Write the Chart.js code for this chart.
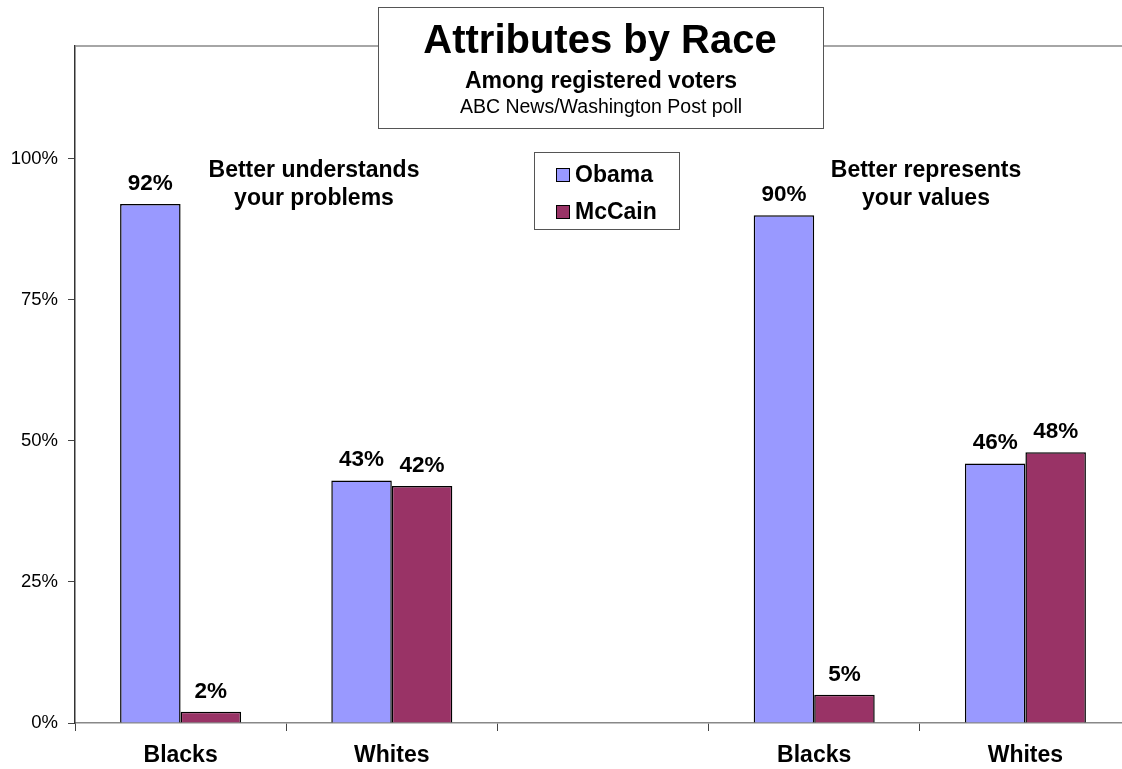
<!DOCTYPE html>
<html>
<head>
<meta charset="utf-8">
<script src="https://cdn.jsdelivr.net/npm/chart.js@4.4.1/dist/chart.umd.min.js"></script>
<style>
  html, body { margin: 0; padding: 0; background: #fff; overflow: hidden; }
  #wrap { position: relative; width: 1131px; height: 769px; }
</style>
</head>
<body>
<div id="wrap"><canvas id="raceChart"></canvas></div>
<script>
const categories = ['Blacks', 'Whites', '', 'Blacks', 'Whites'];
const obamaValues = [92, 43, null, 90, 46];
const mccainValues = [2, 42, null, 5, 48];
const yTicks = [0, 25, 50, 75, 100];
const FONT = '"Liberation Sans", Arial, sans-serif';

const overlay = {
    id: 'overlay',
    afterDraw(chart) {
        const c = chart.ctx;
        const area = chart.chartArea;
        c.save();
        // top border of plot area
        c.strokeStyle = '#888';
        c.lineWidth = 1.5;
        c.beginPath();
        c.moveTo(area.left, area.top);
        c.lineTo(area.right, area.top);
        c.stroke();

        // value labels
        c.fillStyle = '#000';
        c.font = 'bold 22.5px ' + FONT;
        c.textAlign = 'center';
        c.textBaseline = 'alphabetic';
        chart.data.datasets.forEach((ds, i) => {
            chart.getDatasetMeta(i).data.forEach((bar, j) => {
                if (ds.data[j] == null) return;
                c.fillText(ds.data[j] + '%', bar.x, bar.y - 14);
            });
        });

        // group captions
        c.font = 'bold 23px ' + FONT;
        c.fillText('Better understands', 314, 177);
        c.fillText('your problems', 314, 205);
        c.fillText('Better represents', 926, 177);
        c.fillText('your values', 926, 205);

        // title box
        c.fillStyle = '#fff';
        c.fillRect(378, 7, 445, 121);
        c.strokeStyle = '#555';
        c.lineWidth = 1;
        c.strokeRect(378.5, 7.5, 445, 121);
        c.fillStyle = '#000';
        c.font = 'bold 40px ' + FONT;
        c.fillText('Attributes by Race', 600, 53);
        c.font = 'bold 23px ' + FONT;
        c.fillText('Among registered voters', 601, 88);
        c.font = '19.5px ' + FONT;
        c.fillText('ABC News/Washington Post poll', 601, 113);

        // legend box
        c.fillStyle = '#fff';
        c.fillRect(534, 152, 145, 77);
        c.strokeStyle = '#555';
        c.strokeRect(534.5, 152.5, 145, 77);
        const items = [['Obama', '#9999FF', 175], ['McCain', '#993366', 212]];
        items.forEach(([name, col, y]) => {
            c.fillStyle = col;
            c.fillRect(556, y - 7, 14, 14);
            c.strokeStyle = '#000';
            c.strokeRect(556.5, y - 6.5, 13, 13);
            c.fillStyle = '#000';
            c.font = 'bold 23px ' + FONT;
            c.textAlign = 'left';
            c.textBaseline = 'middle';
            c.fillText(name, 575, y + 1);
        });
        c.restore();
    }
};

new Chart(document.getElementById('raceChart'), {
    type: 'bar',
    data: {
        labels: categories,
        datasets: [
            { label: 'Obama', data: obamaValues, backgroundColor: '#9999FF', borderColor: '#000', borderWidth: 1.5 },
            { label: 'McCain', data: mccainValues, backgroundColor: '#993366', borderColor: '#000', borderWidth: 1.5 }
        ]
    },
    options: {
        responsive: true,
        maintainAspectRatio: false,
        animation: false,
        layout: { padding: { top: 46, right: 0, left: 0, bottom: 0 } },
        datasets: { bar: { categoryPercentage: 0.573, barPercentage: 1 } },
        plugins: { legend: { display: false }, tooltip: { enabled: false } },
        scales: {
            x: {
                grid: { display: true, drawOnChartArea: false, offset: true, tickLength: 8, color: '#666', tickColor: '#444' },
                border: { color: '#888', width: 1.5 },
                ticks: { color: '#000', font: { family: FONT, size: 23, weight: 'bold' }, padding: 11 },
                afterFit(scale) { scale.height = 46; }
            },
            y: {
                min: 0,
                max: 120,
                afterBuildTicks(scale) { scale.ticks = yTicks.map(v => ({ value: v })); },
                grid: { display: true, drawOnChartArea: false, tickLength: 7, color: '#444' },
                border: { color: '#333', width: 1.5 },
                ticks: { color: '#000', font: { family: FONT, size: 18.5 }, padding: 10, callback: v => v + '%' },
                afterFit(scale) { scale.width = 75; }
            }
        }
    },
    plugins: [overlay]
});
</script>
</body>
</html>
